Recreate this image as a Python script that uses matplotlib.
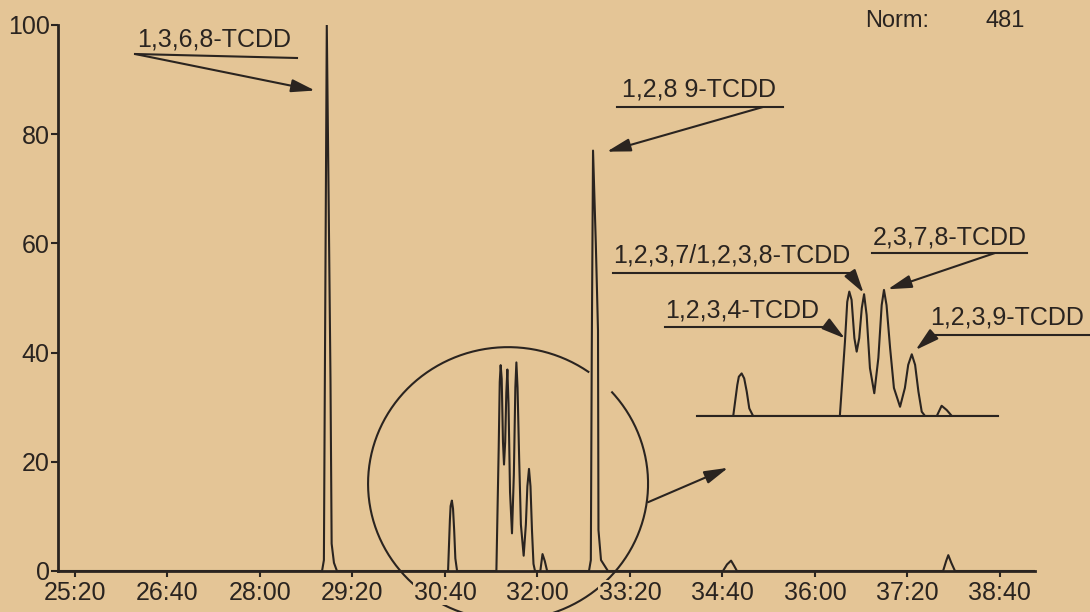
import numpy as np
import matplotlib
matplotlib.use("Agg")
import matplotlib.pyplot as plt
from matplotlib.lines import Line2D

# ------------------------------------------------------------
# data (time in seconds, % of norm)
# ------------------------------------------------------------
rt_sec = [1505.0,
          # 1,3,6,8-TCDD
          1733.7, 1735.3, 1736.0, 1737.8, 1739.5, 1741.0, 1742.0, 1744.0, 1746.6,
          # small early peak
          1842.7, 1844.3, 1844.9, 1846.0, 1847.0, 1848.0, 1849.0, 1850.5,
          # 1,2,3,4 / 1,2,3,7 / 1,2,3,8 / 2,3,7,8 / 1,2,3,9 cluster
          1884.5, 1885.6, 1886.5, 1887.4, 1888.2, 1889.1, 1890.2, 1891.1,
          1892.1, 1893.1, 1894.0, 1895.0, 1896.3, 1898.0, 1899.6, 1900.9,
          1901.8, 1902.8, 1904.2, 1905.7, 1908.1, 1910.0, 1911.3, 1912.7,
          1914.0, 1915.3, 1916.6, 1917.9, 1922.5, 1924.4, 1926.4, 1928.4,
          # 1,2,8,9-TCDD
          1964.6, 1966.2, 1967.0, 1968.1, 1970.5, 1972.4, 1972.8, 1975.0, 1981.0,
          # late small peaks
          2080.5, 2084.0, 2087.5, 2090.0, 2092.6,
          2270.9, 2273.5, 2275.4, 2278.0, 2281.2,
          2350.0]
intensity = [0.0,
             0.0, 2.0, 30.0, 100.0, 66.0, 35.0, 5.0, 1.5, 0.0,
             0.0, 9.4, 11.9, 12.9, 11.4, 7.4, 2.3, 0.0,
             0.0, 12.4, 22.5, 34.6, 37.7, 35.2, 23.6, 19.5,
             23.6, 32.7, 36.9, 30.6, 14.5, 6.9, 17.6, 33.6,
             38.2, 33.6, 20.6, 8.5, 2.8, 8.5, 15.5, 18.7,
             15.5, 7.4, 1.3, 0.0, 0.0, 3.1, 1.8, 0.0,
             0.0, 2.0, 40.0, 77.0, 60.0, 44.0, 7.5, 2.0, 0.0,
             0.0, 1.2, 1.9, 1.0, 0.0,
             0.0, 1.8, 2.9, 1.5, 0.0,
             0.0]

tick_sec = [1520, 1600, 1680, 1760, 1840, 1920, 2000, 2080, 2160, 2240, 2320]
tick_labels = ["25:20", "26:40", "28:00", "29:20", "30:40", "32:00",
               "33:20", "34:40", "36:00", "37:20", "38:40"]
y_ticks = [0, 20, 40, 60, 80, 100]

norm_value = "481"

# ------------------------------------------------------------
BG = "#e4c596"
INK = "#2a2420"
W, H = 1090, 612

plt.rcParams['font.family'] = ['Liberation Sans', 'DejaVu Sans']


def fx(x):
    return x / W


def fy(y):
    return 1 - y / H


fig = plt.figure(figsize=(W / 100, H / 100), dpi=100, facecolor=BG)
ax = fig.add_axes([fx(58), fy(571), fx(1035) - fx(58), fy(25) - fy(571)])
ax.set_facecolor(BG)

ax.plot(rt_sec, intensity, color=INK, lw=1.5, solid_joinstyle='round')
ax.set_xlim(1505.3, 2350.4)
ax.set_ylim(0, 100)

for s in ("top", "right"):
    ax.spines[s].set_visible(False)
for s in ("left", "bottom"):
    ax.spines[s].set_linewidth(2)
    ax.spines[s].set_color(INK)

ax.set_xticks(tick_sec)
ax.set_xticklabels(tick_labels)
ax.set_yticks(y_ticks)
ax.tick_params(axis="x", direction="out", length=4, width=1.5, pad=3,
               labelsize=18, colors=INK)
ax.tick_params(axis="y", direction="out", length=5, width=1.5, pad=1,
               labelsize=18, colors=INK)
for lab in ax.get_xticklabels():
    lab.set_bbox(dict(facecolor=BG, edgecolor="none", pad=0.5))

# circle around the cluster (drawn under the tick labels)
cx, cy, rx, ry = 1894.6, 16.0, 121.1, 25.0
th = np.radians(np.linspace(55, 402, 400))
ax.plot(cx + rx * np.cos(th), cy + ry * np.sin(th), color=INK, lw=1.5,
        clip_on=False, zorder=1)

arrow = dict(arrowstyle="-|>,head_length=0.8,head_width=0.22",
             mutation_scale=18, lw=1.5, color=INK, shrinkA=0, shrinkB=0)

# arrow from the circle to the inset
ax.annotate("", xy=(2084.9, 18.9), xytext=(2015.7, 12.6),
            arrowprops=arrow, annotation_clip=False)


def label(text, tx, ty, line, start, tip, axis, size=18):
    fig.text(fx(tx), fy(ty), text, ha="left", va="baseline",
             fontsize=size, color=INK)
    fig.add_artist(Line2D([fx(line[0]), fx(line[2])], [fy(line[1]), fy(line[3])],
                          transform=fig.transFigure, color=INK, lw=1.5))
    axis.annotate("", xy=tip, xycoords="data",
                  xytext=(fx(start[0]), fy(start[1])), textcoords="figure fraction",
                  arrowprops=arrow, annotation_clip=False)


label("1,3,6,8-TCDD", 137, 47, (135, 54, 297, 58), (135, 54), (1727.6, 88.0), ax)
label("1,2,8 9-TCDD", 622, 97, (617, 107, 783, 107), (763, 107), (1980.0, 76.8), ax)

# inset (magnified cluster)
ins = fig.add_axes([fx(697), fy(416), fx(998) - fx(697), fy(284) - fy(416)])
ins.patch.set_alpha(0)
ins.plot(rt_sec, intensity, color=INK, lw=1.5, solid_joinstyle='round')
ins.set_xlim(1828.5, 1946.5)
ins.set_ylim(0, 40)
for s in ("top", "right", "left"):
    ins.spines[s].set_visible(False)
ins.spines["bottom"].set_linewidth(1.5)
ins.spines["bottom"].set_color(INK)
ins.set_xticks([])
ins.set_yticks([])

label("1,2,3,7/1,2,3,8-TCDD", 613, 263, (613, 273, 850, 273), (850, 273), (1893.8, 37.3), ins)
label("2,3,7,8-TCDD", 873, 245, (872, 253, 1027, 253), (995, 253), (1903.3, 38.4), ins)
label("1,2,3,4-TCDD", 665, 317, (665, 327, 830, 327), (830, 327), (1886.5, 23.5), ins)
label("1,2,3,9-TCDD", 930, 325, (932, 335, 1090, 335), (933, 335), (1914.2, 20.0), ins)

fig.text(fx(865), fy(27), "Norm:", ha="left", va="baseline", fontsize=17, color=INK)
fig.text(fx(986), fy(27), norm_value, ha="left", va="baseline", fontsize=17, color=INK)

fig.savefig("out.png", dpi=100, facecolor=BG)
